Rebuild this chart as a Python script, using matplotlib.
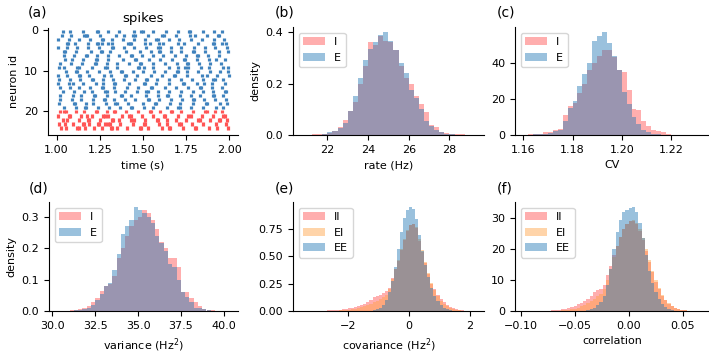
import numpy as np
import matplotlib
matplotlib.use("Agg")
import matplotlib.pyplot as plt

plt.rcParams['font.family'] = ['DejaVu Sans']
plt.rcParams['font.size'] = 8

# ---------------- data ----------------
# spike times in ms after t = 1 s, one list per neuron (0-19 E, 20-24 I)
spikes_ms = [
    [35, 78, 150, 235, 242, 298, 360, 445, 490, 498, 560, 632, 700, 765, 772, 845, 910, 960],
    [30, 85, 160, 168, 175, 250, 345, 388, 440, 452, 530, 612, 620, 690, 770, 800, 870, 935, 942],
    [5, 70, 128, 195, 262, 268, 318, 382, 448, 512, 577, 585, 648, 708, 776, 842, 910, 968],
    [58, 66, 105, 180, 232, 240, 262, 300, 318, 412, 425, 432, 512, 540, 595, 618, 700, 735, 820, 905, 912, 958, 980],
    [10, 60, 118, 182, 245, 318, 326, 392, 450, 515, 588, 596, 660, 720, 795, 858, 918, 988],
    [40, 48, 110, 198, 255, 262, 310, 402, 480, 548, 590, 598, 660, 722, 790, 798, 860, 940, 990],
    [42, 98, 168, 175, 232, 298, 362, 428, 435, 492, 558, 615, 685, 748, 812, 820, 878, 938],
    [48, 88, 155, 228, 236, 300, 385, 455, 462, 535, 600, 670, 735, 742, 815, 880, 925, 972],
    [18, 82, 145, 220, 228, 290, 352, 420, 480, 488, 555, 625, 695, 755, 762, 822, 890, 950],
    [12, 45, 120, 128, 205, 280, 292, 350, 470, 478, 505, 560, 648, 705, 742, 760, 835, 880, 962, 990],
    [55, 112, 120, 178, 245, 308, 372, 380, 440, 502, 565, 630, 698, 705, 755, 820, 885, 948, 992],
    [5, 62, 130, 138, 190, 275, 312, 395, 402, 468, 545, 610, 680, 688, 752, 840, 872, 930, 995],
    [15, 75, 138, 205, 212, 268, 328, 388, 452, 518, 525, 582, 652, 718, 785, 848, 908, 915, 962],
    [8, 70, 95, 150, 228, 270, 330, 338, 420, 505, 512, 575, 650, 730, 738, 815, 852, 900, 975],
    [22, 75, 132, 195, 260, 268, 330, 410, 470, 545, 552, 625, 690, 760, 830, 838, 900, 955],
    [38, 102, 160, 205, 282, 290, 335, 398, 465, 520, 528, 585, 650, 718, 788, 845, 905, 975, 982],
    [20, 92, 140, 215, 224, 290, 372, 380, 430, 520, 585, 640, 645, 715, 780, 830, 905, 912, 965],
    [22, 88, 142, 208, 272, 280, 330, 395, 455, 528, 535, 590, 660, 725, 790, 798, 855, 918, 980],
    [15, 100, 108, 170, 210, 285, 340, 348, 415, 500, 570, 578, 655, 712, 790, 862, 868, 948, 985],
    [40, 112, 165, 172, 240, 305, 365, 428, 436, 505, 560, 640, 705, 712, 775, 850, 920, 965],
    [20, 45, 52, 110, 160, 228, 236, 290, 330, 338, 400, 470, 540, 548, 600, 662, 670, 720, 790, 860, 868, 915, 960],
    [10, 70, 78, 140, 175, 205, 270, 278, 300, 380, 420, 428, 495, 560, 620, 628, 700, 760, 775, 840, 905, 965, 972],
    [35, 62, 130, 182, 190, 250, 320, 328, 360, 430, 445, 510, 580, 588, 640, 690, 750, 820, 828, 890, 940, 948, 985],
    [15, 48, 95, 150, 158, 190, 240, 248, 280, 300, 310, 365, 440, 505, 512, 590, 640, 710, 718, 785, 850, 920, 978],
    [28, 55, 120, 128, 165, 215, 260, 315, 322, 350, 410, 480, 488, 530, 610, 650, 658, 730, 800, 808, 880, 930, 990],
]
n_exc = 20

# (b) firing rate histograms, bins of 0.25 Hz starting at 20.75
rate_edges = np.arange(20.75, 29.26, 0.25)
rate_I = [0.001, 0.001, 0.002, 0.002, 0.003, 0.006, 0.015, 0.030, 0.060, 0.095,
          0.130, 0.200, 0.270, 0.360, 0.350, 0.385, 0.365, 0.360, 0.330, 0.270,
          0.220, 0.200, 0.150, 0.120, 0.090, 0.040, 0.030, 0.012, 0.008, 0.004,
          0.003, 0.002, 0.001, 0.001]
rate_E = [0.0, 0.0, 0.001, 0.001, 0.003, 0.010, 0.015, 0.028, 0.045, 0.095,
          0.150, 0.220, 0.290, 0.335, 0.360, 0.390, 0.400, 0.365, 0.330, 0.280,
          0.240, 0.175, 0.145, 0.100, 0.055, 0.035, 0.020, 0.010, 0.005, 0.002,
          0.001, 0.0, 0.0, 0.0]

# (c) CV histograms, bins of 0.002 starting at 1.160
cv_edges = np.linspace(1.160, 1.232, 37)
cv_I = [0.2, 0.3, 0.5, 0.8, 1.5, 1.5, 2.5, 3.5, 11, 16, 18, 23, 28, 36, 40, 44, 47, 47,
        43, 36, 35, 25, 14.5, 14, 7.5, 5, 2.5, 2, 1.5, 0.3, 0.2, 0.1, 0.1, 0.05, 0.05, 0.0]
cv_E = [0.1, 0.2, 0.3, 0.5, 0.8, 1.0, 2.0, 3.0, 7.5, 15, 19, 27, 34, 40, 52, 55, 57, 51,
        44, 36, 24, 17, 10, 6, 3, 1.5, 0.8, 0.4, 0.2, 0.1, 0.0, 0, 0, 0, 0, 0]

# (d) variance histograms, bins of 0.25 Hz^2 starting at 30.25
var_edges = np.arange(30.25, 40.26, 0.25)
var_I = [0.001, 0.001, 0.001, 0.002, 0.003, 0.005, 0.010, 0.015, 0.030, 0.040,
         0.065, 0.080, 0.085, 0.110, 0.170, 0.200, 0.240, 0.270, 0.290, 0.300,
         0.320, 0.310, 0.290, 0.260, 0.220, 0.200, 0.170, 0.170, 0.140, 0.060,
         0.060, 0.040, 0.030, 0.015, 0.006, 0.003, 0.002, 0.001, 0.001, 0.001]
var_E = [0.0, 0.0, 0.001, 0.001, 0.002, 0.003, 0.006, 0.010, 0.020, 0.035,
         0.055, 0.080, 0.090, 0.130, 0.180, 0.245, 0.270, 0.290, 0.330, 0.320,
         0.310, 0.300, 0.280, 0.240, 0.215, 0.190, 0.150, 0.140, 0.100, 0.060,
         0.045, 0.030, 0.010, 0.010, 0.005, 0.002, 0.001, 0.001, 0.0, 0.0]

# (e) covariance histograms, bins of 0.1 Hz^2 starting at -3.5
cov_edges = np.linspace(-3.5, 2.2, 58)
cov_II = [0.001, 0.001, 0.001, 0.002, 0.002, 0.002, 0.003, 0.004, 0.005, 0.006,
          0.008, 0.010, 0.013, 0.017, 0.021, 0.026, 0.032, 0.040, 0.048, 0.056,
          0.066, 0.080, 0.100, 0.125, 0.140, 0.150, 0.165, 0.185, 0.215, 0.300,
          0.380, 0.460, 0.560, 0.650, 0.730,
          0.790, 0.800, 0.760, 0.640, 0.540, 0.440, 0.340, 0.250, 0.200, 0.150,
          0.110, 0.080, 0.055, 0.040, 0.028, 0.018, 0.010, 0.006, 0.003, 0.002,
          0.001, 0.001]
cov_EI = [0.0, 0.0, 0.0, 0.0, 0.0, 0.001, 0.001, 0.001, 0.002, 0.002,
          0.003, 0.004, 0.005, 0.007, 0.009, 0.012, 0.016, 0.020, 0.026, 0.033,
          0.042, 0.052, 0.065, 0.080, 0.095, 0.110, 0.125, 0.150, 0.200, 0.290,
          0.380, 0.470, 0.570, 0.660, 0.740,
          0.790, 0.800, 0.770, 0.660, 0.560, 0.450, 0.350, 0.260, 0.190, 0.135,
          0.095, 0.065, 0.045, 0.030, 0.020, 0.012, 0.007, 0.004, 0.002, 0.001,
          0.001, 0.0]
cov_EE = [0.0, 0.0, 0.0, 0.0, 0.0, 0.0, 0.0, 0.0, 0.0, 0.0,
          0.0, 0.0, 0.0, 0.0, 0.0, 0.0, 0.0, 0.0, 0.0, 0.0,
          0.001, 0.002, 0.004, 0.008, 0.015, 0.030, 0.055, 0.100, 0.170, 0.270,
          0.400, 0.570, 0.720, 0.850, 0.920,
          0.950, 0.930, 0.840, 0.700, 0.550, 0.420, 0.310, 0.210, 0.140, 0.090,
          0.055, 0.032, 0.018, 0.009, 0.004, 0.002, 0.001, 0.0, 0.0, 0.0,
          0.0, 0.0]

# (f) correlation histograms, bins of 0.003 starting at -0.096
corr_edges = np.linspace(-0.096, 0.066, 55)
corr_II = [0.02, 0.02, 0.03, 0.04, 0.05, 0.07, 0.1, 0.15, 0.2, 0.3,
           0.4, 0.55, 0.75, 1.0, 1.3, 1.7, 2.2, 2.7, 3.2, 3.8,
           5.0, 6.0, 6.7, 7.0, 8.5, 11.5, 14.5, 18.0, 21.0, 24.0,
           26.5, 28.0, 29.0, 29.0, 28.0, 26.0, 23.0, 19.5, 16.0, 12.5,
           9.5, 7.0, 5.0, 3.5, 2.4, 1.5, 1.0, 0.6, 0.35, 0.2,
           0.1, 0.05, 0.03, 0.02]
corr_EI = [0.0, 0.0, 0.0, 0.01, 0.01, 0.02, 0.03, 0.05, 0.07, 0.1,
           0.14, 0.2, 0.3, 0.42, 0.6, 0.8, 1.1, 1.5, 1.9, 2.5,
           3.2, 4.0, 4.8, 5.6, 7.0, 10.0, 13.5, 17.5, 21.0, 24.0,
           26.5, 28.0, 29.2, 29.3, 28.5, 26.5, 23.5, 20.0, 16.5, 13.0,
           10.0, 7.5, 5.3, 3.7, 2.5, 1.6, 1.0, 0.6, 0.35, 0.2,
           0.1, 0.05, 0.02, 0.01]
corr_EE = [0.0, 0.0, 0.0, 0.0, 0.0, 0.0, 0.0, 0.0, 0.0, 0.0,
           0.0, 0.0, 0.0, 0.0, 0.0, 0.0, 0.01, 0.03, 0.08, 0.2,
           0.5, 1.0, 1.8, 3.0, 5.0, 8.5, 13.5, 20.0, 25.5, 29.5,
           32.0, 32.8, 33.3, 33.6, 32.0, 28.5, 23.5, 18.0, 13.0, 9.0,
           6.0, 3.8, 2.3, 1.3, 0.7, 0.35, 0.15, 0.06, 0.02, 0.0,
           0.0, 0.0, 0.0, 0.0]

# ---------------- styling ----------------
c_raster_E = '#3f82bd'
c_raster_I = '#ff5555'
c_I = '#ff4d4d'
c_E = '#1f77b4'
c_EI = '#ffa040'
alpha = 0.45

W, H = 709, 355
fig = plt.figure(figsize=(W / 100, H / 100), dpi=100)


def ax_at(l, r, t, b):
    ax = fig.add_axes([l / W, 1 - b / H, (r - l) / W, (b - t) / H])
    ax.spines['top'].set_visible(False)
    ax.spines['right'].set_visible(False)
    return ax


def hist(ax, edges, heights, color, label):
    edges = np.asarray(edges)
    centers = 0.5 * (edges[:-1] + edges[1:])
    ax.hist(centers, bins=edges, weights=heights, color=color, alpha=alpha, label=label)


# (a) raster
ax = ax_at(48, 238, 28, 135)
for i, st in enumerate(spikes_ms):
    t = 1 + np.asarray(st) / 1000.0
    col = c_raster_E if i < n_exc else c_raster_I
    ax.eventplot(t, lineoffsets=i + 0.25, linelengths=0.8, linewidths=2.3, colors=col)
ax.set_xlim(0.95, 2.05)
ax.set_ylim(26, -0.6)
ax.set_xticks([1.0, 1.25, 1.5, 1.75, 2.0])
ax.set_yticks([0, 10, 20])
ax.set_xlabel('time (s)')
ax.set_ylabel('neuron id')
ax.set_title('spikes', fontsize=9.5, pad=4)

# (b) rate
ax = ax_at(293, 484, 27, 135)
hist(ax, rate_edges, rate_I, c_I, 'I')
hist(ax, rate_edges, rate_E, c_E, 'E')
ax.set_xlim(20.31, 29.7)
ax.set_xticks([22, 24, 26, 28])
ax.set_yticks([0.0, 0.2, 0.4])
ax.set_xlabel('rate (Hz)')
ax.set_ylabel('density')
ax.legend(loc='upper left')

# (c) CV
ax = ax_at(515, 709, 27, 135)
hist(ax, cv_edges, cv_I, c_I, 'I')
hist(ax, cv_edges, cv_E, c_E, 'E')
ax.set_xlim(1.1566, 1.2355)
ax.set_xticks([1.16, 1.18, 1.20, 1.22])
ax.set_yticks([0, 20, 40])
ax.set_xlabel('CV')
ax.legend(loc='upper left')

# (d) variance
ax = ax_at(49, 238, 202, 311)
hist(ax, var_edges, var_I, c_I, 'I')
hist(ax, var_edges, var_E, c_E, 'E')
ax.set_xlim(29.8, 40.84)
ax.set_xticks([30.0, 32.5, 35.0, 37.5, 40.0])
ax.set_yticks([0.0, 0.1, 0.2, 0.3])
ax.set_xlabel('variance (Hz$^2$)')
ax.set_ylabel('density')
ax.legend(loc='upper left')

# (e) covariance
ax = ax_at(293, 484, 202, 311)
hist(ax, cov_edges, cov_II, c_I, 'II')
hist(ax, cov_edges, cov_EI, c_EI, 'EI')
hist(ax, cov_edges, cov_EE, c_E, 'EE')
ax.set_xlim(-3.81, 2.46)
ax.set_xticks([-2, 0, 2])
ax.set_yticks([0.0, 0.25, 0.5, 0.75])
ax.set_xlabel('covariance (Hz$^2$)')
ax.legend(loc='upper left')

# (f) correlation
ax = ax_at(515, 709, 202, 311)
hist(ax, corr_edges, corr_II, c_I, 'II')
hist(ax, corr_edges, corr_EI, c_EI, 'EI')
hist(ax, corr_edges, corr_EE, c_E, 'EE')
ax.set_xlim(-0.1052, 0.0745)
ax.set_xticks([-0.10, -0.05, 0.0, 0.05])
ax.set_yticks([0, 10, 20, 30])
ax.set_xlabel('correlation')
ax.legend(loc='upper left')

# panel letters
for txt, x, y in [('(a)', 28, 13), ('(b)', 275, 13), ('(c)', 497, 13),
                  ('(d)', 29, 188), ('(e)', 275, 188), ('(f)', 497, 188)]:
    fig.text(x / W, 1 - y / H, txt, fontsize=10, va='center', ha='left')

fig.savefig('out.png', dpi=100)
